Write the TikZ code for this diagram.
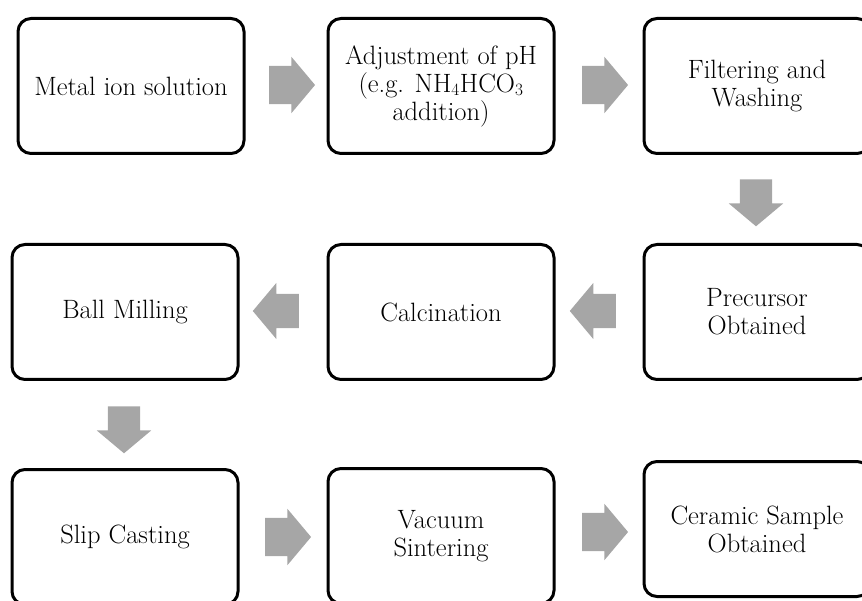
\documentclass[tikz,border=0pt]{standalone}
\usepackage{tikz}
\usetikzlibrary{shapes.arrows}
\definecolor{arrowgray}{HTML}{A6A6A6}

\begin{document}
\begin{tikzpicture}[x=1pt,y=-1pt]
        \tikzstyle{stepbox}=[rectangle,draw,line width=3pt,rounded corners=13pt,minimum width=226pt,minimum height=135pt,align=center,font=\fontsize{26.5}{28}\selectfont]
        \tikzstyle{flow}=[single arrow,fill=arrowgray,draw=none,inner xsep=0pt,inner ysep=19pt,single arrow head extend=9pt,single arrow tip angle=100,minimum height=46pt]
          \clip (0,0) rectangle (862,601);
          \node (metal) at (131,86) [stepbox] {Metal ion solution};
          \node (adjust) at (441,86) [stepbox] {Adjustment of pH\\(e.g. NH$_4$HCO$_3$\\addition)};
          \node (filter) at (757,86) [stepbox] {Filtering and\\Washing};
          \node (precursor) at (757,312) [stepbox] {Precursor\\Obtained};
          \node (calcination) at (441,312) [stepbox] {Calcination};
          \node (milling) at (125,312) [stepbox] {Ball Milling};
          \node (slip) at (125,537) [stepbox] {Slip Casting};
          \node (vacuum) at (441,536) [stepbox] {Vacuum\\Sintering};
          \node (ceramic) at (757,529) [stepbox] {Ceramic Sample\\Obtained};
          % block arrows between the steps
          \node (m-a) at (284,85) [flow] {};
          \node (a-f) at (597,85) [flow] {};
          \node (f-p) at (756,196) [flow,rotate=-90,inner ysep=16pt,single arrow head extend=11pt,minimum height=47pt] {};
          \node (p-c) at (600,311) [flow,rotate=180,inner ysep=17pt,single arrow head extend=11pt] {};
          \node (c-m) at (283,311) [flow,rotate=180,inner ysep=17pt,single arrow head extend=11pt] {};
          \node (m-s) at (124,423) [flow,rotate=-90,inner ysep=16pt,single arrow head extend=11pt,minimum height=47pt] {};
          \node (s-v) at (280,537) [flow] {};
          \node (v-c) at (597,532) [flow] {};
      \end{tikzpicture}
\end{document}
